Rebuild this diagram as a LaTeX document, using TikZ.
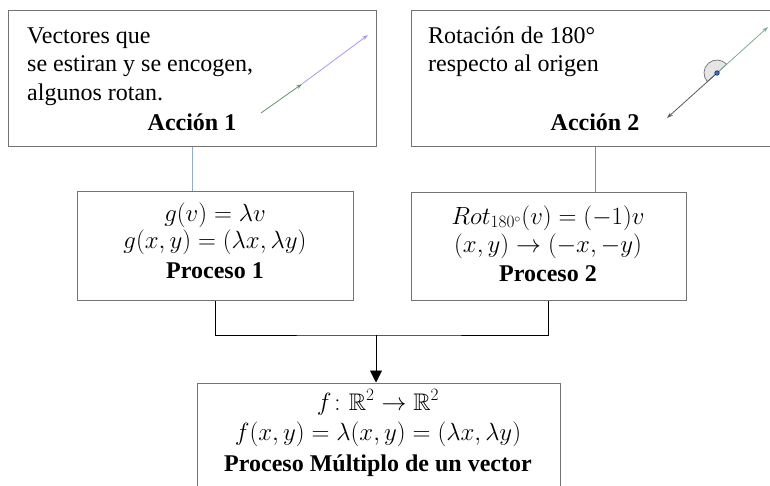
\documentclass[tikz,border=0pt]{standalone}
\usepackage{amsmath,amssymb}
\usepackage{fontspec}
\setmainfont{Liberation Serif}
\usetikzlibrary{arrows.meta}

\definecolor{verdevec}{HTML}{5E9A6E}
\definecolor{lilavec}{HTML}{A49CF0}
\definecolor{azulliga}{HTML}{8FAADC}
\definecolor{azulpunto}{HTML}{3D6FC9}

\tikzset{
  caja/.style={draw=black!55, line width=1pt, fill=white, inner sep=0pt},
  liga/.style={draw=azulliga, line width=0.9pt},
  texto/.style={inner sep=0pt},
  vector/.style={line width=0.8pt, -{Stealth[length=6pt,width=4pt]}},
}

\begin{document}
\begin{tikzpicture}[x=1pt, y=-1pt, >=Stealth, font=\fontsize{24}{28}\selectfont]
  \useasboundingbox (0,0) rectangle (770,485);
  % cajas
  \node[caja, minimum width=368pt, minimum height=136pt] (accion1) at (192,78) {};
  \node[caja, minimum width=368pt, minimum height=136pt] (accion2) at (595,78) {};
  \node[caja, minimum width=276pt, minimum height=109pt] (proceso1) at (215,245.5) {};
  \node[caja, minimum width=275pt, minimum height=108pt] (proceso2) at (548.5,246) {};
  \node[caja, minimum width=363pt, minimum height=117pt] (multiplo) at (378.5,441.5) {};

  % conectores
  \draw[liga] (accion1.south) -- (accion1.south |- proceso1.north);
  \draw[liga, draw=azulpunto!80] (accion2.south) -- (accion2.south |- proceso2.north);
  \coordinate (union) at (376,335);
  \draw[line width=0.9pt] (proceso1.south) |- (union) -| (proceso2.south);
  \draw[line width=0.9pt, -{Triangle[length=12pt,width=12pt]}] (union) -- (union |- multiplo.north);

  % Accion 1
  \node[texto, anchor=base west] (a1l1) at (27,43) {Vectores que};
  \node[texto, anchor=base west] (a1l2) at (27,71) {se estiran y se encogen,};
  \node[texto, anchor=base west] (a1l3) at (27,100) {algunos rotan.};
  \node[texto, anchor=base] (a1t) at (192,130) {\bfseries Acción 1};
  \coordinate (v0) at (261,113);
  \coordinate (v1) at (302,84);
  \coordinate (v2) at (368,35);
  \draw[vector, verdevec] (v0) -- (v1);
  \draw[vector, lilavec] (v1) -- (v2);

  % Accion 2
  \node[texto, anchor=base west] (a2l1) at (428,43) {Rotación de 180°};
  \node[texto, anchor=base west] (a2l2) at (428,71) {respecto al origen};
  \node[texto, anchor=base] (a2t) at (595,130) {\bfseries Acción 2};
  \coordinate (o) at (717,73);
  \coordinate (w1) at (768,27);
  \coordinate (w2) at (667,118);
  \filldraw[fill=black!10, draw=black!55, line width=0.7pt] (o) -- +(42:13pt) arc[start angle=42, end angle=222, radius=13pt] -- cycle;
  \draw[vector, verdevec!80] (o) -- (w1);
  \draw[vector, black!65] (o) -- (w2);
  \filldraw[fill=azulpunto, draw=blue!30!black, line width=0.4pt] (o) circle (2.3pt);

  % Proceso 1 y 2
  \node[texto, anchor=base] (p1l1) at (215,221) {$g(v) = \lambda v$};
  \node[texto, anchor=base] (p1l2) at (215,248) {$g(x,y) = (\lambda x, \lambda y)$};
  \node[texto, anchor=base] (p1t) at (215,278) {\bfseries Proceso 1};
  \node[texto, anchor=base] (p2l1) at (548,224) {$Rot_{180^{\circ}}(v) = (-1)v$};
  \node[texto, anchor=base] (p2l2) at (548,252) {$(x,y) \rightarrow (-x,-y)$};
  \node[texto, anchor=base] (p2t) at (548,281) {\bfseries Proceso 2};

  % Proceso multiplo
  \node[texto, anchor=base] (m1) at (378,410) {$f\colon \mathbb{R}^2 \rightarrow \mathbb{R}^2$};
  \node[texto, anchor=base] (m2) at (378,440) {$f(x,y) = \lambda(x,y) = (\lambda x, \lambda y)$};
  \node[texto, anchor=base] (m3) at (378,471) {\bfseries Proceso Múltiplo de un vector};
\end{tikzpicture}
\end{document}
